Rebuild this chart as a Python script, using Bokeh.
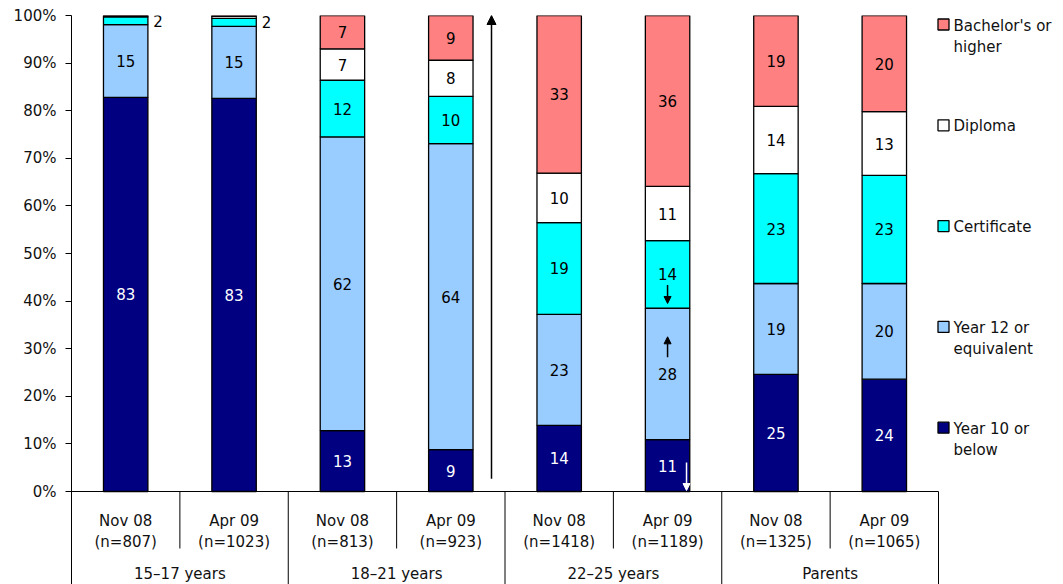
from bokeh.plotting import figure
from bokeh.models import ColumnDataSource, Range1d, FixedTicker, PrintfTickFormatter, Arrow, NormalHead
from bokeh.core.properties import value
from bokeh.embed import file_html
from bokeh.resources import INLINE

# ---- data -------------------------------------------------------------
periods = ["Nov 08", "Apr 09", "Nov 08", "Apr 09", "Nov 08", "Apr 09", "Nov 08", "Apr 09"]
sample_sizes = ["(n=807)", "(n=1023)", "(n=813)", "(n=923)",
                "(n=1418)", "(n=1189)", "(n=1325)", "(n=1065)"]
groups = ["15\u201317 years", "18\u201321 years", "22\u201325 years", "Parents"]

# percentages, stacked bottom to top
year10 = [82.8, 82.6, 12.8, 8.8, 13.9, 10.9, 24.6, 23.6]
year12 = [15.3, 15.1, 61.7, 64.3, 23.3, 27.6, 19.1, 20.1]
certificate = [1.6, 1.7, 11.9, 9.9, 19.3, 14.2, 23.1, 22.7]
diploma = [0.2, 0.4, 6.6, 7.6, 10.4, 11.4, 14.1, 13.4]
bachelor = [0.1, 0.2, 7.0, 9.4, 33.1, 35.9, 19.1, 20.2]

levels = ["year10", "year12", "certificate", "diploma", "bachelor"]
level_names = ["Year 10 or\nbelow", "Year 12 or\nequivalent", "Certificate",
               "Diploma", "Bachelor's or\nhigher"]
colors = ["#000080", "#99CCFF", "#00FFFF", "#FFFFFF", "#FF8080"]
label_colors = ["white", "black", "black", "black", "black"]
y_ticks = [0, 10, 20, 30, 40, 50, 60, 70, 80, 90, 100]

FONT = value("DejaVu Sans")
n_bars = len(periods)
x_pos = [i + 0.5 for i in range(n_bars)]
BAR_W = 0.41

# plot frame: bars occupy x 0..8, the legend sits to the right of them
W, H = 1063, 584
LEFT, TOP = 71, 15
plot_px = 867                      # pixels spanned by the 8 bar slots
ux = plot_px / n_bars              # pixels per x unit
uy = (491 - TOP) / 100.0           # pixels per percentage point
x_end = (W - LEFT) / ux
y_start = -(H - 491) / uy

p = figure(width=W, height=H, x_range=Range1d(0, x_end), y_range=Range1d(y_start, 100),
           output_backend="svg", toolbar_location=None, x_axis_location=None,
           min_border_left=LEFT, min_border_right=0, min_border_top=TOP, min_border_bottom=0)
p.outline_line_color = None
p.grid.visible = False
p.background_fill_color = "white"

ax = p.yaxis[0]
ax.ticker = FixedTicker(ticks=y_ticks)
ax.formatter = PrintfTickFormatter(format="%d%%")
ax.minor_tick_line_color = None
ax.major_tick_in = 0
ax.major_tick_out = 6
ax.major_label_standoff = 9
ax.axis_line_color = "black"
ax.major_tick_line_color = "black"
ax.major_label_text_font = "DejaVu Sans"
ax.major_label_text_font_size = "15px"
ax.major_label_text_color = "#111111"

# ---- stacked bars -----------------------------------------------------
data = dict(x=x_pos, year10=year10, year12=year12, certificate=certificate,
            diploma=diploma, bachelor=bachelor)
src = ColumnDataSource(data)
p.vbar_stack(levels, x="x", width=BAR_W, color=colors, line_color="black",
             line_width=1.3, source=src)

# ---- value labels -----------------------------------------------------
series = [year10, year12, certificate, diploma, bachelor]
in_x, in_y, in_t, in_c = [], [], [], []
out_x, out_y, out_t = [], [], []
for i in range(n_bars):
    base = 0.0
    for k, vals in enumerate(series):
        v = vals[i]
        mid = base + v / 2
        if v >= 5:
            in_x.append(x_pos[i]); in_y.append(mid)
            in_t.append(f"{round(v):d}"); in_c.append(label_colors[k])
        elif v >= 1:
            out_x.append(x_pos[i] + BAR_W / 2 + 0.05); out_y.append(mid)
            out_t.append(f"{round(v):d}")
        base += v

p.text(x=in_x, y=in_y, text=in_t, text_color=in_c, text_font=FONT,
       text_font_size="15px", text_align="center", text_baseline="middle")
p.text(x=out_x, y=out_y, text=out_t, text_color="black", text_font=FONT,
       text_font_size="15px", text_align="left", text_baseline="middle")

# ---- category table under the bars -----------------------------------
row1 = -(520 - 491) / uy
row2 = -(541 - 491) / uy
row3 = -(573 - 491) / uy
inner_bottom = -(548 - 491) / uy

p.text(x=x_pos, y=[row1] * n_bars, text=periods, text_font=FONT, text_font_size="15px",
       text_align="center", text_baseline="middle", text_color="#111111")
p.text(x=x_pos, y=[row2] * n_bars, text=sample_sizes, text_font=FONT, text_font_size="15px",
       text_align="center", text_baseline="middle", text_color="#111111")
group_x = [2 * g + 1 for g in range(len(groups))]
p.text(x=group_x, y=[row3] * len(groups), text=groups, text_font=FONT, text_font_size="15px",
       text_align="center", text_baseline="middle", text_color="#111111")

# baseline and cell borders
p.segment(x0=[0], y0=[0], x1=[n_bars], y1=[0], line_color="black", line_width=1)
inner = [2 * g + 1 for g in range(len(groups))]
outer = [2 * g + 2 for g in range(len(groups))]
p.segment(x0=inner, y0=[0] * len(inner), x1=inner, y1=[inner_bottom] * len(inner),
          line_color="black", line_width=1)
p.segment(x0=outer, y0=[0] * len(outer), x1=outer, y1=[y_start] * len(outer),
          line_color="black", line_width=1)

# ---- legend (top entry = top of stack) -------------------------------
leg_x = (943 - LEFT) / ux
leg_tx = (953 - LEFT) / ux
leg_top = (491 - 24) / uy
leg_step = 100.8 / uy
leg_y = [leg_top - j * leg_step for j in range(len(levels))]
leg_colors = colors[::-1]
leg_text = level_names[::-1]
p.scatter(x=[leg_x] * len(levels), y=leg_y, marker="square", size=11,
          fill_color=leg_colors, line_color="black", line_width=1.3)
p.text(x=[leg_tx] * len(levels), y=[y + 8.0 / uy for y in leg_y], text=leg_text,
       text_font=FONT, text_font_size="15px", text_align="left", text_baseline="top",
       text_line_height=1.2, text_color="#111111")

# ---- change markers ---------------------------------------------------
big = Arrow(x_start=(491 - LEFT) / ux, y_start=2.7, x_end=(491 - LEFT) / ux, y_end=100,
            line_color="black", line_width=1.5,
            end=NormalHead(size=9, fill_color="black", line_color="black"))
p.add_layout(big)

b = 5  # 22-25 years, Apr 09
c_base = year10[b] + year12[b]
down_cert = Arrow(x_start=x_pos[b], y_start=c_base + 4.9, x_end=x_pos[b], y_end=c_base + 1.0,
                  line_color="black", line_width=1.5,
                  end=NormalHead(size=7, fill_color="black", line_color="black"))
up_y12 = Arrow(x_start=x_pos[b], y_start=year10[b] + 17.3, x_end=x_pos[b], y_end=year10[b] + 21.6,
               line_color="black", line_width=1.5,
               end=NormalHead(size=7, fill_color="black", line_color="black"))
down_y10 = Arrow(x_start=x_pos[b] + 0.175, y_start=6.1, x_end=x_pos[b] + 0.175, y_end=0.2,
                 line_color="white", line_width=1.5,
                 end=NormalHead(size=7, fill_color="white", line_color="white"))
for a in (down_cert, up_y12, down_y10):
    p.add_layout(a)

open("out.html", "w").write(file_html(p, INLINE))
